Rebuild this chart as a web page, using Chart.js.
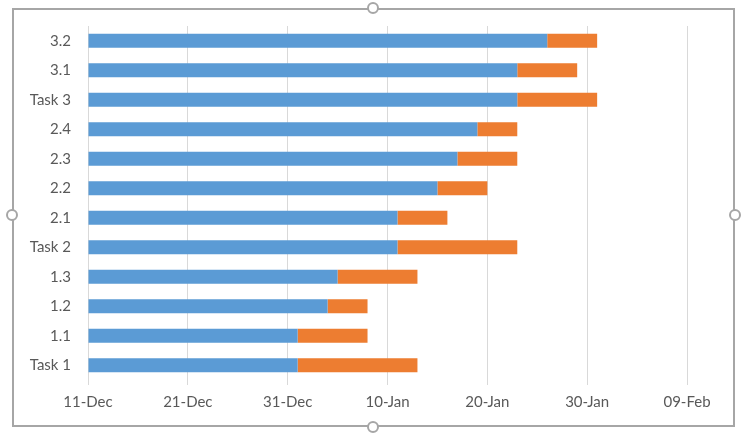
<!DOCTYPE html>
<html>
<head>
<meta charset="utf-8">
<script src="https://cdn.jsdelivr.net/npm/chart.js@4.4.0/dist/chart.umd.min.js"></script>
<style>
  html, body { margin: 0; padding: 0; background: #ffffff; }
  #wrap { position: relative; width: 750px; height: 434px; overflow: hidden; }
  #frame { position: absolute; left: 12px; top: 8px; width: 723px; height: 419px; border: 2px solid #a6a6a6; box-sizing: border-box; pointer-events: none; }
  .h { position: absolute; width: 12px; height: 12px; border: 2px solid #a6a6a6; border-radius: 50%; background: #fff; box-sizing: border-box; }
  canvas { position: absolute; left: 0; top: 0; }
</style>
</head>
<body>
<div id="wrap">
  <canvas id="c" width="750" height="434"></canvas>
  <div id="frame"></div>
  <div class="h" style="left:367px; top:2px;"></div>
  <div class="h" style="left:367px; top:421px;"></div>
  <div class="h" style="left:6px; top:209px;"></div>
  <div class="h" style="left:729px; top:209px;"></div>
</div>
<script>
// ---- data ----
const tasks = ['Task 1', '1.1', '1.2', '1.3', 'Task 2', '2.1', '2.2', '2.3', '2.4', 'Task 3', '3.1', '3.2'];
const startDates = ['2015-01-01', '2015-01-01', '2015-01-04', '2015-01-05', '2015-01-11', '2015-01-11',
                    '2015-01-15', '2015-01-17', '2015-01-19', '2015-01-23', '2015-01-23', '2015-01-26'];
const durations = [12, 7, 4, 8, 12, 5, 5, 6, 4, 8, 6, 5];
const axisStart = '2014-12-11';
const axisDays = 60;
const tickStepDays = 10;

const DAY = 86400000;
const base = Date.parse(axisStart + 'T00:00:00Z');
const startOffsets = startDates.map(d => (Date.parse(d + 'T00:00:00Z') - base) / DAY);
const MONTHS = ['Jan','Feb','Mar','Apr','May','Jun','Jul','Aug','Sep','Oct','Nov','Dec'];
function fmt(v) {
  const d = new Date(base + v * DAY);
  const dd = String(d.getUTCDate()).padStart(2, '0');
  return dd + '-' + MONTHS[d.getUTCMonth()];
}

const font = { family: 'Lato, "Open Sans", sans-serif', size: 15 };

new Chart(document.getElementById('c'), {
  type: 'bar',
  data: {
    labels: tasks,
    datasets: [
      { label: 'Start', data: startOffsets, backgroundColor: '#5B9BD5', borderWidth: 0 },
      { label: 'Duration', data: durations, backgroundColor: '#ED7D31', borderWidth: 0 }
    ]
  },
  options: {
    indexAxis: 'y',
    responsive: false,
    animation: false,
    layout: { padding: { left: 0, right: 63, top: 26, bottom: 0 } },
    plugins: { legend: { display: false }, tooltip: { enabled: false } },
    datasets: { bar: { categoryPercentage: 1, barPercentage: 0.48 } },
    scales: {
      x: {
        type: 'linear',
        stacked: true,
        min: 0,
        max: axisDays,
        border: { display: false },
        grid: { color: '#d9d9d9', lineWidth: 1, drawTicks: true, tickLength: 5, tickColor: '#d9d9d9' },
        ticks: { stepSize: tickStepDays, color: '#595959', font: font, padding: 8, callback: v => fmt(v) },
        afterFit: s => { s.height = 54; }
      },
      y: {
        stacked: true,
        reverse: true,
        border: { display: false },
        grid: { display: false, drawTicks: false },
        ticks: { color: '#595959', font: font, padding: 17 },
        afterFit: s => { s.width = 88; }
      }
    }
  }
});
</script>
</body>
</html>
